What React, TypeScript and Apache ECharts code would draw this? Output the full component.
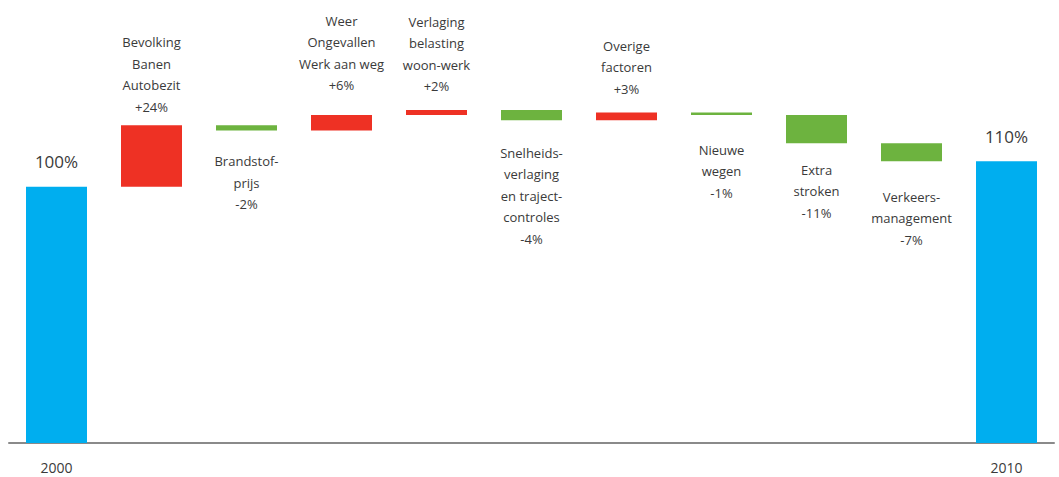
import React, { useEffect, useRef } from "react";
import * as echarts from "echarts";

const categories = ["2000", "c1", "c2", "c3", "c4", "c5", "c6", "c7", "c8", "c9", "2010"];
const barLabels = [
  "100%",
  "Bevolking\nBanen\nAutobezit\n+24%",
  "Brandstof-\nprijs\n-2%",
  "Weer\nOngevallen\nWerk aan weg\n+6%",
  "Verlaging\nbelasting\nwoon-werk\n+2%",
  "Snelheids-\nverlaging\nen traject-\ncontroles\n-4%",
  "Overige\nfactoren\n+3%",
  "Nieuwe\nwegen\n-1%",
  "Extra\nstroken\n-11%",
  "Verkeers-\nmanagement\n-7%",
  "110%",
];
const startTotal = 100;
const deltas = [24, -2, 6, 2, -4, 3, -1, -11, -7];
const endTotal = 110;
const labelDistances = [15, 8, 20, 19, 13, 22, 13, 24, 16, 25, 15];

const BLUE = "#00AEEF";
const RED = "#EE3124";
const GREEN = "#6DB33F";

export default function App() {
  const ref = useRef<HTMLDivElement>(null);
  useEffect(() => {
    if (!ref.current) return;
    const chart = echarts.init(ref.current, null, { renderer: "svg" });
    const base: number[] = [0];
    const vals: any[] = [];
    let run = startTotal;
    const mkLabel = (i: number, pos: string, size: number, lh: number) => ({
      show: true,
      position: pos,
      distance: labelDistances[i],
      formatter: barLabels[i],
      fontFamily: "Open Sans",
      fontSize: size,
      lineHeight: lh,
      color: "#3a3a3a",
      align: "center",
    });
    vals.push({ value: startTotal, itemStyle: { color: BLUE }, label: mkLabel(0, "top", 17, 20) });
    deltas.forEach((d, k) => {
      const i = k + 1;
      const next = run + d;
      base.push(Math.min(run, next));
      vals.push({
        value: Math.abs(d),
        itemStyle: { color: d >= 0 ? RED : GREEN },
        label: mkLabel(i, d >= 0 ? "top" : "bottom", 13, 21.5),
      });
      run = next;
    });
    base.push(0);
    vals.push({ value: endTotal, itemStyle: { color: BLUE }, label: mkLabel(10, "top", 17, 20) });

    chart.setOption({
      animation: false,
      grid: { left: 9, right: 5, top: 33, bottom: 34 },
      xAxis: {
        type: "category",
        data: categories,
        axisLine: { lineStyle: { color: "#8a8a8a", width: 2 } },
        axisTick: { show: false },
        axisLabel: {
          interval: 0,
          margin: 17,
          fontFamily: "Open Sans",
          fontSize: 14,
          color: "#3a3a3a",
          formatter: (v: string, i: number) => (i === 0 || i === categories.length - 1 ? v : ""),
        },
      },
      yAxis: { type: "value", min: 0, max: 160, show: false },
      series: [
        {
          type: "bar",
          stack: "w",
          barWidth: 61,
          data: base,
          itemStyle: { color: "transparent" },
          silent: true,
        },
        {
          type: "bar",
          stack: "w",
          barWidth: 61,
          data: vals,
        },
      ],
    });
    return () => chart.dispose();
  }, []);
  return (
    <div
      ref={ref}
      style={{ position: "absolute", left: 0, top: 0, width: 1059, height: 477, background: "#fff" }}
    />
  );
}
